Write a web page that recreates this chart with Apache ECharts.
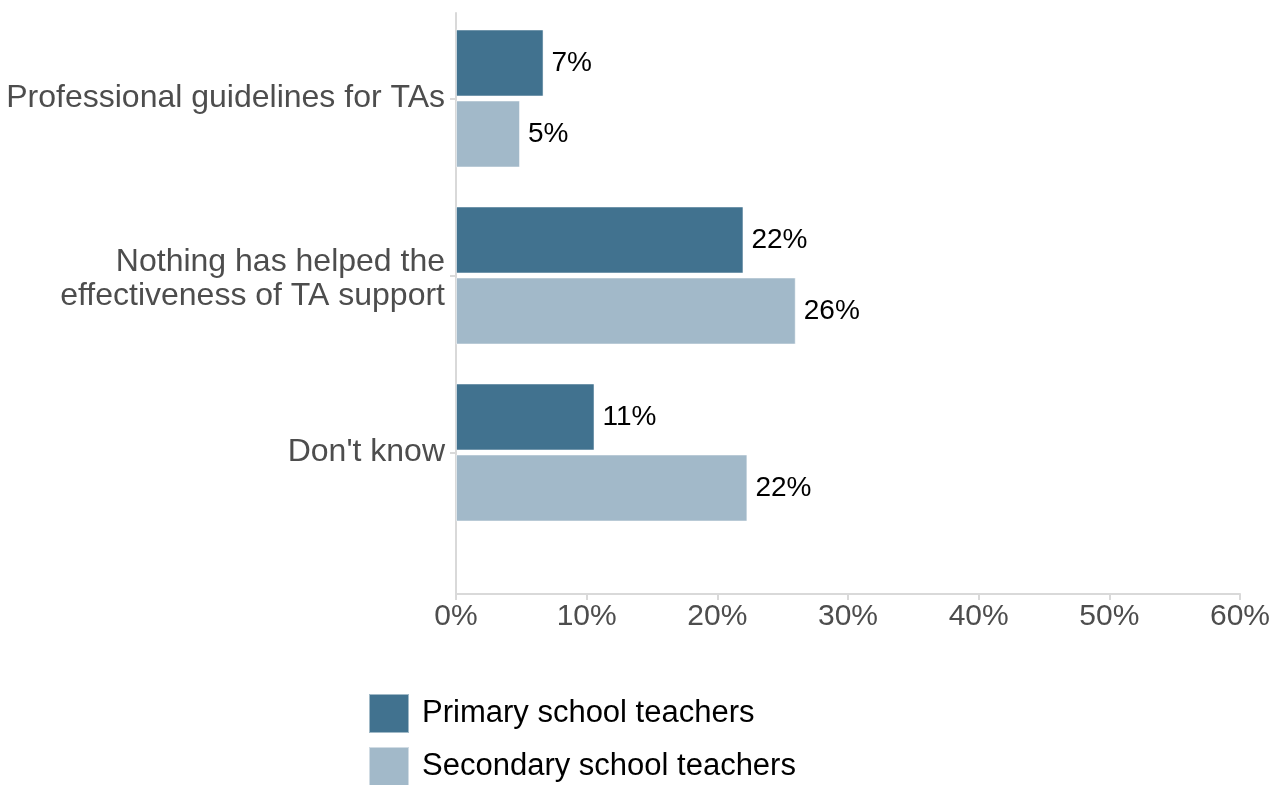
<!DOCTYPE html>
<html>
<head>
<meta charset="utf-8">
<title>What has helped the effectiveness of TA support</title>
<script src="https://cdn.jsdelivr.net/npm/echarts@6/dist/echarts.min.js"></script>
<style>
  html, body { margin: 0; padding: 0; background: #ffffff; }
  #chart { width: 1286px; height: 785px; }
</style>
</head>
<body>
<div id="chart"></div>
<script>
// Answer categories, top to bottom
const categories = [
  'Professional guidelines for TAs',
  'Nothing has helped the\neffectiveness of TA support',
  "Don't know"
];
// Share of respondents (%)
const primaryValues = [6.7, 22.0, 10.6];
const secondaryValues = [4.9, 26.0, 22.3];
const seriesNames = ['Primary school teachers', 'Secondary school teachers'];
const xTicks = [0, 10, 20, 30, 40, 50, 60];

const FONT = '"Liberation Sans", Arial, sans-serif';
const AXIS_GREY = '#d9d9d9';
const TEXT_GREY = '#4d4d4d';
const PRIMARY = '#41728f';
const SECONDARY = '#a2b9c9';

const chart = echarts.init(document.getElementById('chart'), null, { renderer: 'canvas' });

const valueLabel = {
  show: true,
  position: 'right',
  distance: 8,
  color: '#000000',
  fontFamily: FONT,
  fontSize: 28,
  formatter: p => Math.round(p.value) + '%'
};

// one legend block per series, stacked vertically
function legendBlock(name, top) {
  return {
    orient: 'vertical',
    left: 368,
    top: top,
    padding: 0,
    itemWidth: 40,
    itemHeight: 39,
    icon: 'rect',
    textStyle: { color: '#000000', fontFamily: FONT, fontSize: 31, padding: [0, 0, 0, 8] },
    data: [name]
  };
}

chart.setOption({
  animation: false,
  backgroundColor: '#ffffff',
  textStyle: { fontFamily: FONT },
  grid: [
    // bars
    { left: 456, right: 46, top: 10, height: 531 },
    // full-height frame carrying the axis lines and the percentage scale
    { left: 456, right: 46, top: 13, bottom: 191 }
  ],
  xAxis: [
    { gridIndex: 0, type: 'value', min: 0, max: xTicks[xTicks.length - 1], interval: 10, show: false },
    {
      gridIndex: 1, type: 'value', min: xTicks[0], max: xTicks[xTicks.length - 1], interval: 10,
      axisLine: { show: true, lineStyle: { color: AXIS_GREY, width: 2 } },
      axisTick: { show: true, length: 6, lineStyle: { color: AXIS_GREY, width: 2 } },
      splitLine: { show: false },
      axisLabel: {
        color: TEXT_GREY, fontFamily: FONT, fontSize: 30, margin: 8,
        formatter: v => v + '%'
      }
    }
  ],
  yAxis: [
    {
      gridIndex: 0, type: 'category', data: categories, inverse: true,
      axisLine: { show: false },
      axisTick: { show: true, alignWithLabel: true, length: 6, lineStyle: { color: AXIS_GREY, width: 2 } },
      axisLabel: {
        color: TEXT_GREY, fontFamily: FONT, fontSize: 32, margin: 11,
        lineHeight: 34, align: 'right',
        formatter: v => v.indexOf('\n') >= 0 ? '{two|' + v.split('\n').join('}\n{two|') + '}' : v,
        rich: {
          two: { color: TEXT_GREY, fontFamily: FONT, fontSize: 32, lineHeight: 34, padding: [8, 0, 0, 0] }
        }
      }
    },
    {
      gridIndex: 1, type: 'value', min: 0, max: 1,
      axisLine: { show: true, lineStyle: { color: AXIS_GREY, width: 2 } },
      axisTick: { show: false },
      axisLabel: { show: false },
      splitLine: { show: false }
    }
  ],
  legend: [
    legendBlock(seriesNames[0], 693),
    legendBlock(seriesNames[1], 746)
  ],
  series: [
    {
      name: seriesNames[0],
      type: 'bar',
      xAxisIndex: 0, yAxisIndex: 0,
      data: primaryValues,
      barWidth: 67,
      barGap: '6%',
      itemStyle: { color: PRIMARY, borderColor: 'rgba(255,255,255,0.5)', borderWidth: 1 },
      label: valueLabel
    },
    {
      name: seriesNames[1],
      type: 'bar',
      xAxisIndex: 0, yAxisIndex: 0,
      data: secondaryValues,
      barWidth: 67,
      barGap: '6%',
      itemStyle: { color: SECONDARY, borderColor: 'rgba(255,255,255,0.5)', borderWidth: 1 },
      label: valueLabel
    }
  ]
});
</script>
</body>
</html>
